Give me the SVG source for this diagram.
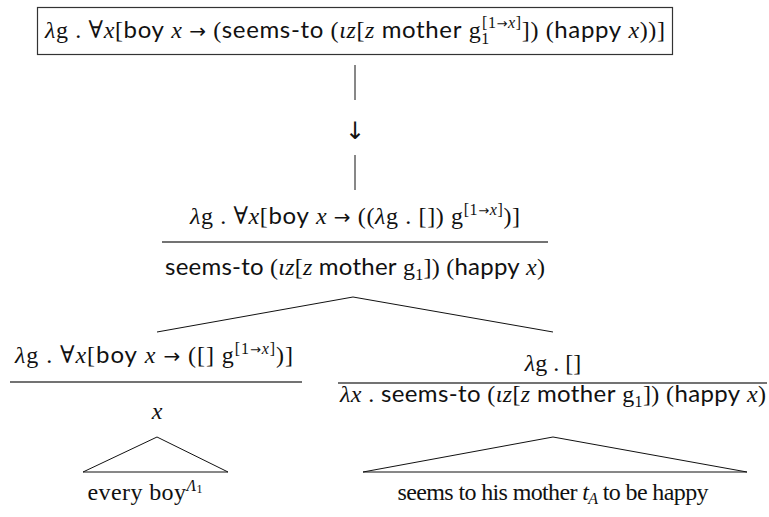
<svg xmlns="http://www.w3.org/2000/svg" width="769" height="517" viewBox="0 0 769 517">
<style>
text{font-family:"Liberation Serif","DejaVu Serif",serif;font-size:24px;fill:#111}
.m{font-style:italic}
.s{font-family:Lato,"Noto Sans","DejaVu Sans",sans-serif;font-size:24px}
.c{text-anchor:middle}
.sm{font-size:16px}
.xs{font-size:12px}
.ar{font-family:"DejaVu Sans",sans-serif;font-size:20px}
.ars{font-family:"DejaVu Sans",sans-serif;font-size:13px}
.edge{stroke:#111;stroke-width:1;fill:none}
.bar{stroke:#444;stroke-width:1.4}
.tri{stroke:#111;stroke-width:1;fill:none}
</style>
<rect width="769" height="517" fill="#fff"/>
<g id="connectors">
<line class="edge" x1="355" y1="65" x2="355" y2="100"/>
<text x="355" y="139" class="c" style="font-family:'DejaVu Sans',sans-serif;font-size:24px">↓</text>
<line class="edge" x1="355" y1="155" x2="355" y2="190"/>
<line class="edge" x1="353" y1="297" x2="157" y2="332"/>
<line class="edge" x1="353" y1="297" x2="553" y2="332"/>
</g>
<g id="top">
<rect x="37.5" y="7.5" width="635" height="47" fill="none" stroke="#333" stroke-width="1.2"/>
<text x="45" y="38" textLength="620" lengthAdjust="spacing"><tspan class="m">λ</tspan>g . ∀<tspan class="m">x</tspan>[<tspan class="s">boy</tspan> <tspan class="m">x</tspan> <tspan class="ar">→</tspan> (<tspan class="s">seems-to</tspan> (<tspan class="m">ιz</tspan>[<tspan class="m">z</tspan> <tspan class="s">mother</tspan> g<tspan class="sm" dy="6">1</tspan><tspan class="sm" dx="-8" dy="-16">[1<tspan class="ars">→</tspan><tspan class="m">x</tspan>]</tspan><tspan dy="10">]) (</tspan><tspan class="s">happy</tspan> <tspan class="m">x</tspan>))]</text>
</g>
<g id="mid">
<text x="355" y="224" class="c" textLength="330" lengthAdjust="spacing"><tspan class="m">λ</tspan>g . ∀<tspan class="m">x</tspan>[<tspan class="s">boy</tspan> <tspan class="m">x</tspan> <tspan class="ar">→</tspan> ((<tspan class="m">λ</tspan>g . []) g<tspan class="sm" dy="-9">[1<tspan class="ars">→</tspan><tspan class="m">x</tspan>]</tspan><tspan dy="9">)]</tspan></text>
<line class="bar" x1="162" y1="242" x2="548" y2="242"/>
<text x="355" y="275" class="c" textLength="380" lengthAdjust="spacing"><tspan class="s">seems-to</tspan> (<tspan class="m">ιz</tspan>[<tspan class="m">z</tspan> <tspan class="s">mother</tspan> g<tspan class="sm" dy="5">1</tspan><tspan dy="-5">]) (</tspan><tspan class="s">happy</tspan> <tspan class="m">x</tspan>)</text>
</g>
<g id="left">
<text x="154" y="363" class="c" textLength="278" lengthAdjust="spacing"><tspan class="m">λ</tspan>g . ∀<tspan class="m">x</tspan>[<tspan class="s">boy</tspan> <tspan class="m">x</tspan> <tspan class="ar">→</tspan> ([] g<tspan class="sm" dy="-9">[1<tspan class="ars">→</tspan><tspan class="m">x</tspan>]</tspan><tspan dy="9">)]</tspan></text>
<line class="bar" x1="10" y1="382" x2="302" y2="382"/>
<text x="157" y="419" class="c m">x</text>
</g>
<g id="right">
<text x="553" y="371" class="c"><tspan class="m">λ</tspan>g . []</text>
<line class="bar" x1="338" y1="383" x2="767" y2="383"/>
<text x="553" y="402" class="c" textLength="426" lengthAdjust="spacing"><tspan class="m">λx</tspan> . <tspan class="s">seems-to</tspan> (<tspan class="m">ιz</tspan>[<tspan class="m">z</tspan> <tspan class="s">mother</tspan> g<tspan class="sm" dy="5">1</tspan><tspan dy="-5">]) (</tspan><tspan class="s">happy</tspan> <tspan class="m">x</tspan>)</text>
</g>
<g id="leafL">
<polygon class="tri" points="157,437 83,472 228,472"/>
<text x="145" y="500" class="c" textLength="115" lengthAdjust="spacing">every boy<tspan class="sm m" dy="-9">Λ</tspan><tspan class="xs" dy="2">1</tspan></text>
</g>
<g id="leafR">
<polygon class="tri" points="553,437 363,472 747,472"/>
<text x="553" y="500" class="c" textLength="311" lengthAdjust="spacing">seems to his mother <tspan class="m">t</tspan><tspan class="sm m" dy="4">A</tspan><tspan dy="-4"> to be happy</tspan></text>
</g>
</svg>
